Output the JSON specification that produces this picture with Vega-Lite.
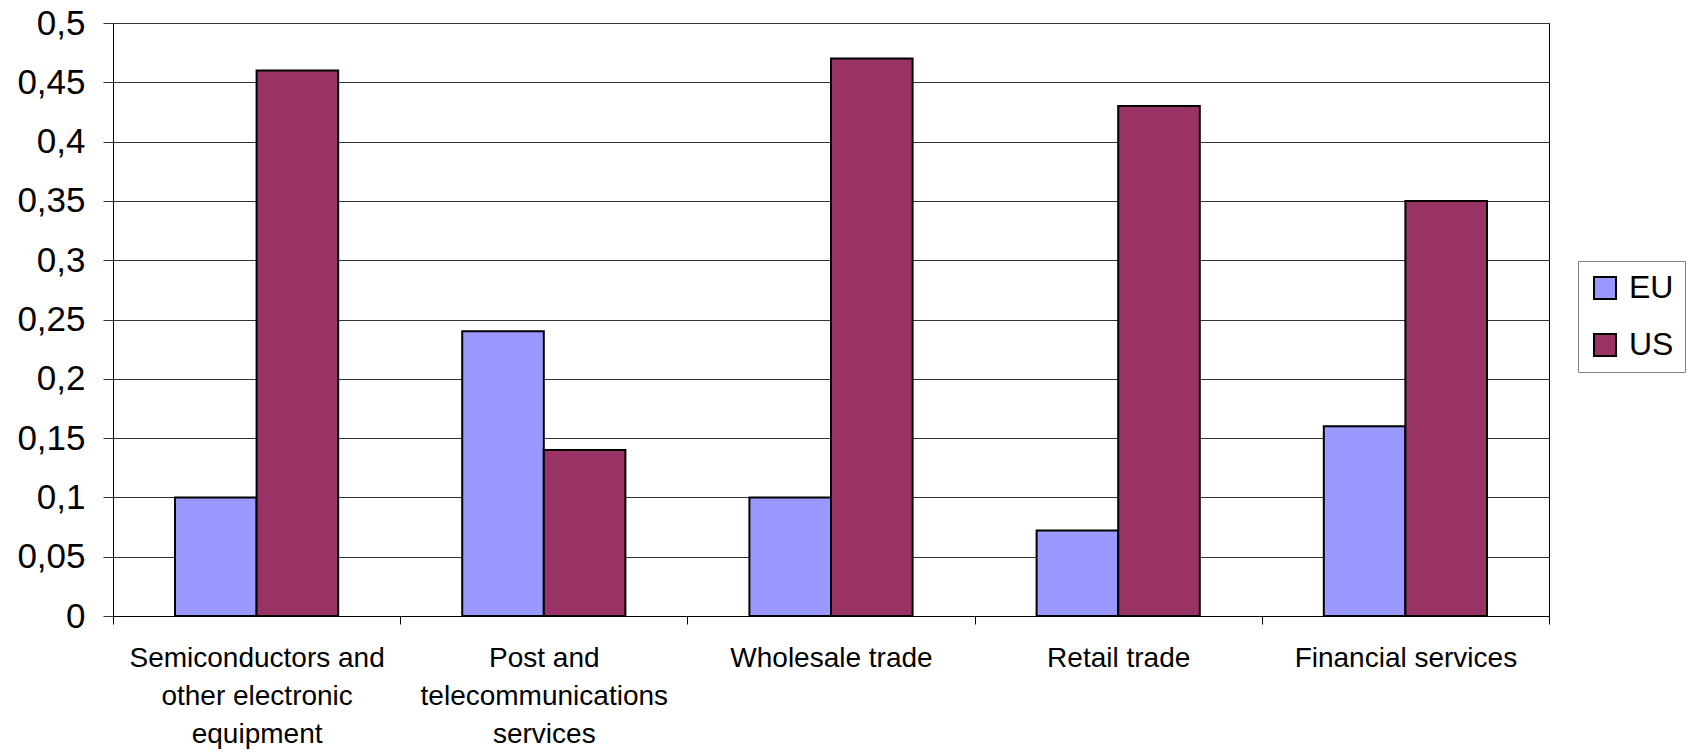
{
  "$schema": "https://vega.github.io/schema/vega-lite/v6.json",
  "width": 1436,
  "height": 593,
  "autosize": {"type": "none"},
  "padding": {"left": 113, "top": 23, "right": 141, "bottom": 136},
  "background": "white",
  "data": {
    "values": [
      {"sector": "Semiconductors and other electronic equipment", "region": "EU", "value": 0.10},
      {"sector": "Semiconductors and other electronic equipment", "region": "US", "value": 0.46},
      {"sector": "Post and telecommunications services", "region": "EU", "value": 0.24},
      {"sector": "Post and telecommunications services", "region": "US", "value": 0.14},
      {"sector": "Wholesale trade", "region": "EU", "value": 0.10},
      {"sector": "Wholesale trade", "region": "US", "value": 0.47},
      {"sector": "Retail trade", "region": "EU", "value": 0.072},
      {"sector": "Retail trade", "region": "US", "value": 0.43},
      {"sector": "Financial services", "region": "EU", "value": 0.16},
      {"sector": "Financial services", "region": "US", "value": 0.35}
    ]
  },
  "mark": {"type": "bar", "stroke": "black", "strokeWidth": 2},
  "encoding": {
    "x": {
      "field": "sector",
      "type": "nominal",
      "sort": ["Semiconductors and other electronic equipment", "Post and telecommunications services", "Wholesale trade", "Retail trade", "Financial services"],
      "scale": {"paddingInner": 0, "paddingOuter": 0},
      "axis": {
        "title": null,
        "labelAngle": 0,
        "tickBand": "extent",
        "tickSize": 8,
        "tickColor": "black",
        "domainColor": "black",
        "labelFont": "Liberation Sans",
        "labelFontSize": 28,
        "labelColor": "black",
        "labelPadding": 20,
        "labelLineHeight": 38,
        "labelLimit": 500,
        "labelExpr": "datum.label == 'Semiconductors and other electronic equipment' ? ['Semiconductors and', 'other electronic', 'equipment'] : datum.label == 'Post and telecommunications services' ? ['Post and', 'telecommunications', 'services'] : datum.label"
      }
    },
    "xOffset": {
      "field": "region",
      "type": "nominal",
      "scale": {"paddingInner": 0, "paddingOuter": 0.76}
    },
    "y": {
      "field": "value",
      "type": "quantitative",
      "scale": {"domain": [0, 0.5], "nice": false},
      "axis": {
        "title": null,
        "values": [0, 0.05, 0.1, 0.15, 0.2, 0.25, 0.3, 0.35, 0.4, 0.45, 0.5],
        "labelExpr": "replace(format(datum.value, '~r'), '.', ',')",
        "tickSize": 10,
        "tickColor": "#333333",
        "gridColor": "#333333",
        "domainColor": "black",
        "labelFont": "Liberation Sans",
        "labelFontSize": 35,
        "labelColor": "black",
        "labelPadding": 18
      }
    },
    "color": {
      "field": "region",
      "type": "nominal",
      "scale": {"domain": ["EU", "US"], "range": ["#9999FF", "#993366"]},
      "legend": {
        "title": null,
        "orient": "none",
        "legendX": 1465,
        "legendY": 238,
        "symbolType": "square",
        "symbolSize": 484,
        "symbolStrokeColor": "black",
        "symbolStrokeWidth": 2,
        "symbolOpacity": 1,
        "labelFont": "Liberation Sans",
        "labelFontSize": 32,
        "labelColor": "black",
        "labelOffset": 8,
        "rowPadding": 25,
        "padding": 11,
        "strokeColor": "#808080",
        "fillColor": "white"
      }
    }
  },
  "config": {
    "view": {"stroke": "black", "strokeWidth": 1},
    "axis": {"gridOpacity": 1, "domainWidth": 1}
  }
}
